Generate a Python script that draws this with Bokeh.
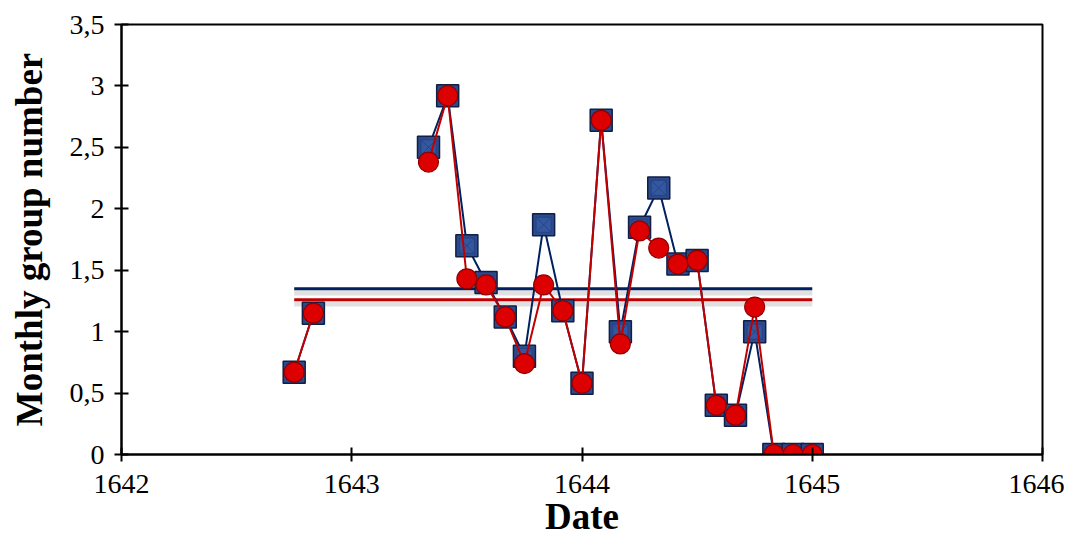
import math
from bokeh.plotting import figure
from bokeh.models import Range1d, FixedTicker, CustomJSTickFormatter, ColumnDataSource
from bokeh.embed import file_html
from bokeh.resources import INLINE

# ---- data ----
years  = [1642]*4 + [1643]*12 + [1644]*12
months = [9, 10, 11, 12] + list(range(1, 13)) + list(range(1, 13))
nan = float("nan")
series_a = [0.67, 1.15, nan, nan, nan, nan, nan, 2.50, 2.92, 1.70, 1.40, 1.12, 0.80, 1.87,
            1.17, 0.58, 2.72, 1.00, 1.85, 2.17, 1.55, 1.58, 0.40, 0.32, 1.00, 0.0, 0.0, 0.0]
series_b = [0.67, 1.15, nan, nan, nan, nan, nan, 2.38, 2.92, 1.43, 1.38, 1.12, 0.74, 1.38,
            1.17, 0.58, 2.72, 0.90, 1.82, 1.68, 1.55, 1.58, 0.40, 0.32, 1.20, 0.0, 0.0, 0.0]
mean_a = 1.35
mean_b = 1.26
x_ticks = [1642, 1643, 1644, 1645, 1646]
y_ticks = [0, 0.5, 1, 1.5, 2, 2.5, 3, 3.5]

dates = [y + m / 12 for y, m in zip(years, months)]
src = ColumnDataSource(dict(x=dates, a=series_a, b=series_b))

FONT = "Liberation Serif"
NAVY = "#002060"
RED = "#C00000"

p = figure(width=1064, height=544, output_backend="svg", toolbar_location=None,
           x_range=Range1d(x_ticks[0], x_ticks[-1]), y_range=Range1d(y_ticks[0], y_ticks[-1]),
           min_border_left=121, min_border_top=24, min_border_right=22, min_border_bottom=90)
p.grid.visible = False
p.outline_line_color = "black"
p.outline_line_width = 2
p.background_fill_color = "white"
p.border_fill_color = "white"

for ax in (p.xaxis[0], p.yaxis[0]):
    ax.axis_line_width = 2
    ax.axis_line_color = "black"
    ax.major_tick_line_width = 2
    ax.major_tick_in = 7
    ax.major_tick_out = 7
    ax.minor_tick_line_color = None
    ax.major_label_text_font = FONT
    ax.major_label_text_font_size = "28px"
    ax.major_label_text_color = "black"
    ax.axis_label_text_font = FONT
    ax.axis_label_text_font_style = "bold"
    ax.axis_label_text_font_size = "37px"
    ax.axis_label_text_color = "black"

p.xaxis.ticker = FixedTicker(ticks=x_ticks)
p.yaxis.ticker = FixedTicker(ticks=y_ticks)
p.yaxis.formatter = CustomJSTickFormatter(code="return String(tick).replace('.', ',');")
p.xaxis.axis_label = "Date"
p.yaxis.axis_label = "Monthly group number"
p.xaxis.major_label_standoff = 13
p.yaxis.major_label_standoff = 10
p.xaxis.axis_label_standoff = 0
p.yaxis.axis_label_standoff = 17

valid = [d for d, v in zip(dates, series_a) if not math.isnan(v)]
x0, x1 = valid[0], valid[-1]

# mean lines with faint shadow
p.line([x0, x1], [mean_a - 0.035, mean_a - 0.035], line_color="#999999", line_alpha=0.3, line_width=5)
p.line([x0, x1], [mean_b - 0.035, mean_b - 0.035], line_color="#999999", line_alpha=0.3, line_width=5)
p.line([x0, x1], [mean_a, mean_a], line_color=NAVY, line_width=3)
p.line([x0, x1], [mean_b, mean_b], line_color=RED, line_width=3)

# series A (squares)
p.line("x", "a", source=src, line_color=NAVY, line_width=2)
p.scatter("x", "a", source=src, marker="square", size=22, fill_color="#2C4A8C",
          line_color="#0F1F47", line_width=1.5)
p.scatter("x", "a", source=src, marker="square_x", size=15, fill_color="#34589F",
          line_color="#22407E", line_width=1, line_alpha=0.8)

# series B (spheres)
p.line("x", "b", source=src, line_color=RED, line_width=2)
p.scatter("x", "b", source=src, marker="circle", size=20, fill_color="#DD0000",
          line_color="#8E0000", line_width=1.2)

open("out.html", "w").write(file_html(p, INLINE))
